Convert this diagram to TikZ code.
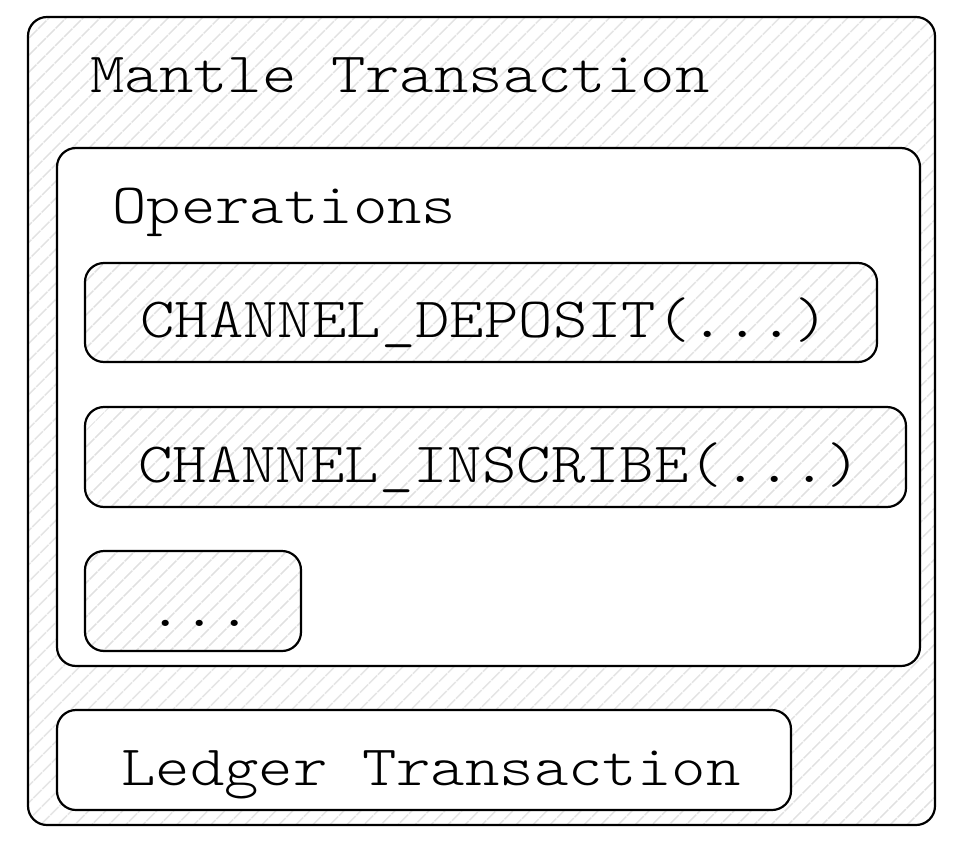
\documentclass[tikz,border=0pt]{standalone}
\usepackage{fontspec}
\newfontfamily\monolight[FakeStretch=1.15]{Latin Modern Mono Light}
\usetikzlibrary{patterns.meta}
\begin{document}
\begin{tikzpicture}[x=1pt,y=-1pt,
  box/.style={draw=black, line width=2.2pt, rounded corners=19pt, rectangle, inner sep=0pt},
  hatch/.style={pattern={Lines[angle=45,distance=13pt,line width=1.8pt]}, pattern color=black!12},
  plain/.style={fill=white},
  lbl/.style={font=\monolight\fontsize{57}{60}\selectfont, anchor=base west, inner sep=0pt}]
\useasboundingbox (0,0) rectangle (962,846);
\node[box, hatch, minimum width=907pt, minimum height=808pt] (mantle) at (481.5,421) {};
\node[box, plain, minimum width=863pt, minimum height=518pt] (ops) at (488.5,407) {};
\node[box, hatch, minimum width=792pt, minimum height=99pt] (dep) at (481,312.5) {};
\node[box, hatch, minimum width=821pt, minimum height=100pt] (ins) at (495.5,457) {};
\node[box, hatch, minimum width=216pt, minimum height=100pt] (dots) at (193,601) {};
\node[box, plain, minimum width=734pt, minimum height=100pt] (ledger) at (424,760) {};
\node[lbl] (tmantle) at (90,92) {Mantle Transaction};
\node[lbl] (tops) at (112,223) {Operations};
\node[lbl] (tdep) at (140,337) {CHANNEL\_DEPOSIT(...)};
\node[lbl] (tins) at (138,482) {CHANNEL\_INSCRIBE(...)};
\node[lbl] (tdots) at (148,626) {...};
\node[lbl] (tledger) at (121,785) {Ledger Transaction};
\end{tikzpicture}
\end{document}
